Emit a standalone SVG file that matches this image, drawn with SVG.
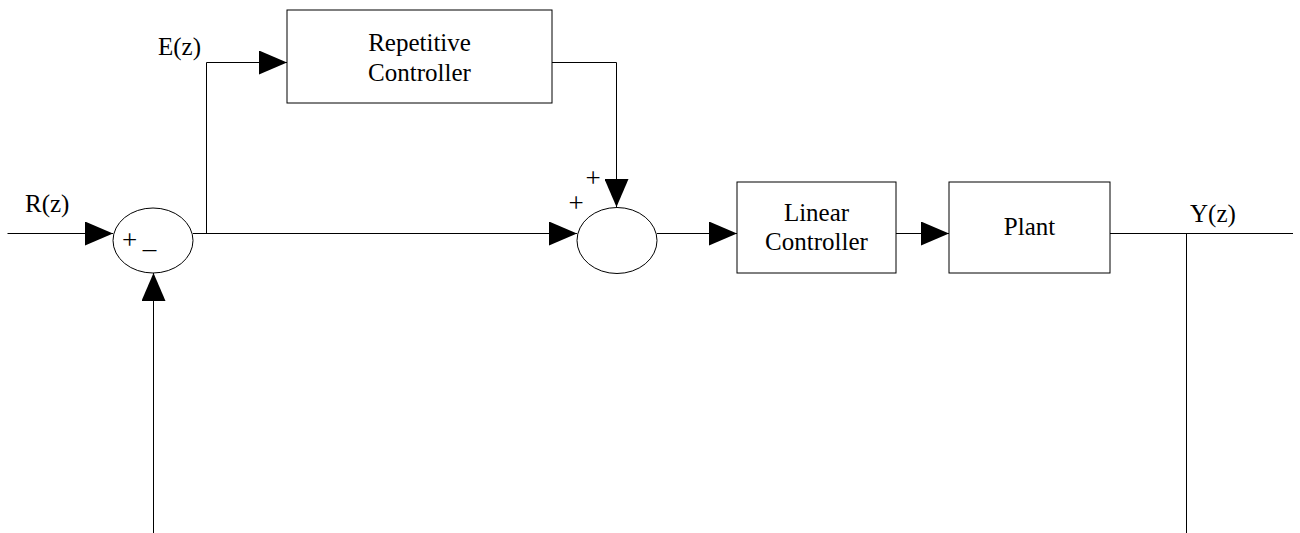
<svg xmlns="http://www.w3.org/2000/svg" width="1300" height="533" viewBox="0 0 1300 533">
  <defs>
    <marker id="arrow" viewBox="0 0 28 24" refX="28" refY="12" markerWidth="28" markerHeight="24" markerUnits="userSpaceOnUse" orient="auto">
      <path d="M0,0 L28,12 L0,24 Z" fill="#000"/>
    </marker>
    <style>
      .blk { fill: #fff; stroke: #000; stroke-width: 1; }
      .wire { fill: none; stroke: #000; stroke-width: 1; }
      .lbl { font-family: "Liberation Serif", "Times New Roman", serif; font-size: 25px; fill: #000; }
      .sign { font-family: "Liberation Serif", "Times New Roman", serif; font-size: 27px; fill: #000; }
    </style>
  </defs>
  <rect width="1300" height="533" fill="#fff"/>

  <!-- signal paths -->
  <g id="connectors">
    <path class="wire" d="M7.5,233.5 H113" marker-end="url(#arrow)"/>
    <path class="wire" d="M193,233.5 H577" marker-end="url(#arrow)"/>
    <path class="wire" d="M206.5,233.5 V62.5 H287" marker-end="url(#arrow)"/>
    <path class="wire" d="M552,62.5 H616.5 V207" marker-end="url(#arrow)"/>
    <path class="wire" d="M657,233.5 H737" marker-end="url(#arrow)"/>
    <path class="wire" d="M896,233.5 H949" marker-end="url(#arrow)"/>
    <path class="wire" d="M1110,233.5 H1293"/>
    <path class="wire" d="M1186.5,233.5 V533"/>
    <path class="wire" d="M153.5,533 V273" marker-end="url(#arrow)"/>
  </g>

  <g id="sum1">
    <ellipse class="blk" cx="153" cy="240.5" rx="40" ry="32.5"/>
    <text class="sign" x="129.5" y="249" text-anchor="middle">+</text>
    <text class="sign" x="149.5" y="248" text-anchor="middle">_</text>
  </g>

  <g id="repetitive-controller">
    <rect class="blk" x="287" y="10" width="265" height="93"/>
    <text class="lbl" x="419.5" y="51" text-anchor="middle">Repetitive</text>
    <text class="lbl" x="419.5" y="81" text-anchor="middle">Controller</text>
  </g>

  <g id="sum2">
    <ellipse class="blk" cx="617" cy="240.5" rx="40" ry="33"/>
    <text class="sign" x="593" y="187" text-anchor="middle">+</text>
    <text class="sign" x="576" y="212" text-anchor="middle">+</text>
  </g>

  <g id="linear-controller">
    <rect class="blk" x="737" y="182" width="159" height="91"/>
    <text class="lbl" x="816.5" y="221" text-anchor="middle">Linear</text>
    <text class="lbl" x="816.5" y="250" text-anchor="middle">Controller</text>
  </g>

  <g id="plant">
    <rect class="blk" x="949" y="182" width="161" height="91"/>
    <text class="lbl" x="1029.5" y="235" text-anchor="middle">Plant</text>
  </g>

  <g id="signal-labels">
    <text class="lbl" x="25" y="212">R(z)</text>
    <text class="lbl" x="158" y="55">E(z)</text>
    <text class="lbl" x="1190" y="222">Y(z)</text>
  </g>
</svg>
